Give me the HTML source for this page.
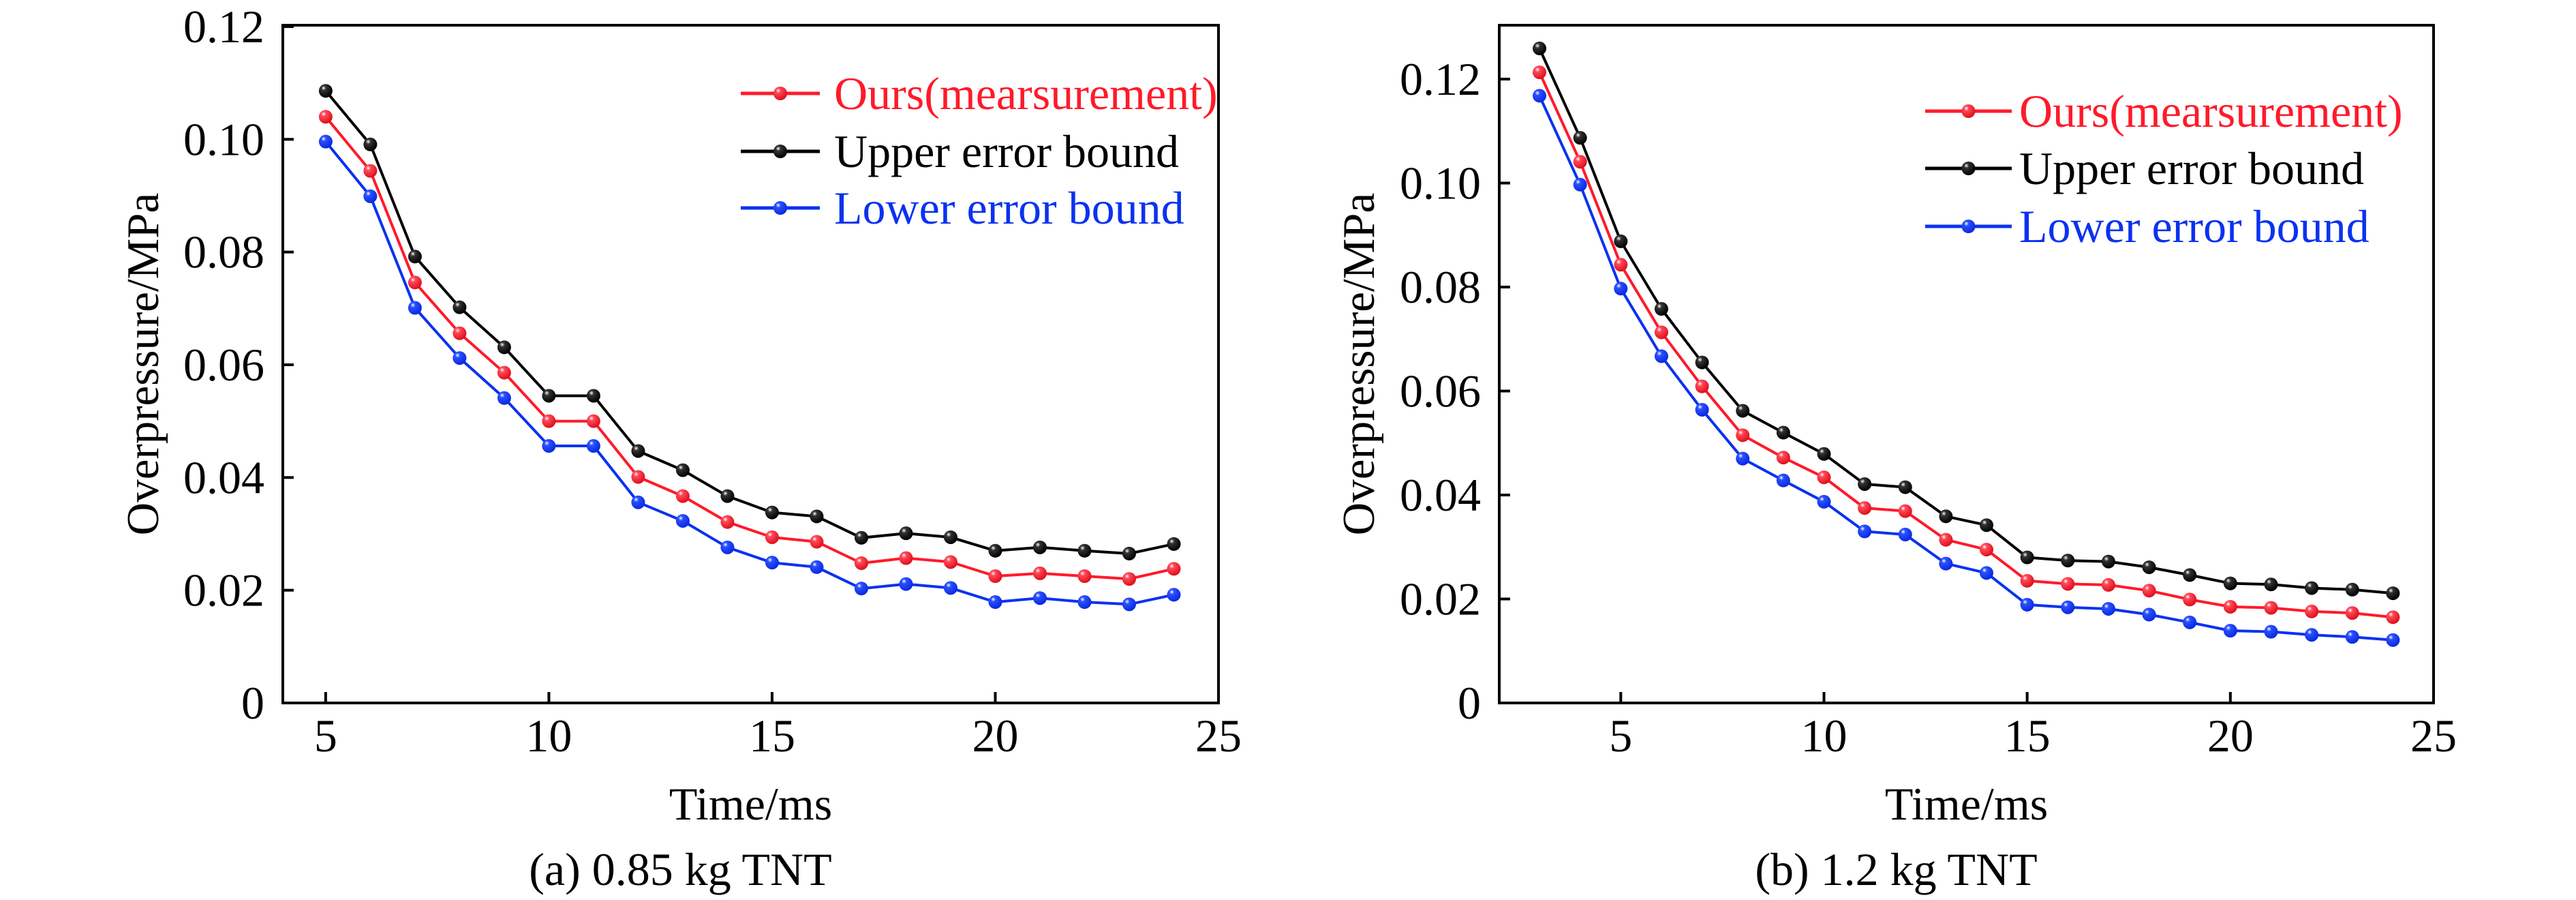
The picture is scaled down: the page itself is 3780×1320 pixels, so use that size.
<!DOCTYPE html>
<html><head><meta charset="utf-8"><style>
html,body{margin:0;padding:0;background:#fff;}
svg{display:block;}
svg text{font-family:"Liberation Serif","Times New Roman",serif;}
</style></head>
<body>
<svg id="fig" width="3780" height="1320" viewBox="0 0 3780 1320" xmlns="http://www.w3.org/2000/svg" font-family="Liberation Serif, serif">
<defs>
<radialGradient id="gr" cx="0.35" cy="0.3" r="0.7"><stop offset="0" stop-color="#fff"/><stop offset="0.25" stop-color="#ff4a5a"/><stop offset="1" stop-color="#e0101c"/></radialGradient>
<radialGradient id="gk" cx="0.35" cy="0.3" r="0.7"><stop offset="0" stop-color="#fff"/><stop offset="0.25" stop-color="#333"/><stop offset="1" stop-color="#000"/></radialGradient>
<radialGradient id="gb" cx="0.35" cy="0.3" r="0.7"><stop offset="0" stop-color="#fff"/><stop offset="0.25" stop-color="#2a50ff"/><stop offset="1" stop-color="#0a2ae0"/></radialGradient>
</defs>
</svg>
<script>
// Panel (a) 0.85 kg TNT
const timeA = [5,6,7,8,9,10,11,12,13,14,15,16,17,18,19,20,21,22,23,24];
const oursA = [0.1040,0.0944,0.0746,0.0656,0.0586,0.0500,0.0500,0.0401,0.0367,0.0321,0.0294,0.0286,0.0248,0.0257,0.0250,0.0225,0.0230,0.0225,0.0220,0.0238];
const upperA = [0.1086,0.0991,0.0792,0.0702,0.0631,0.0545,0.0545,0.0447,0.0413,0.0367,0.0338,0.0331,0.0293,0.0301,0.0294,0.0270,0.0276,0.0270,0.0265,0.0282];
const lowerA = [0.0996,0.0899,0.0701,0.0612,0.0541,0.0456,0.0456,0.0356,0.0323,0.0276,0.0249,0.0241,0.0203,0.0211,0.0204,0.0179,0.0186,0.0179,0.0175,0.0192];
// Panel (b) 1.2 kg TNT
const timeB = [3,4,5,6,7,8,9,10,11,12,13,14,15,16,17,18,19,20,21,22,23,24];
const oursB = [0.1213,0.1041,0.0843,0.0713,0.0609,0.0515,0.0472,0.0434,0.0375,0.0369,0.0314,0.0295,0.0235,0.0229,0.0227,0.0216,0.0199,0.0185,0.0183,0.0176,0.0173,0.0165];
const upperB = [0.1259,0.1087,0.0888,0.0758,0.0655,0.0562,0.0520,0.0479,0.0421,0.0415,0.0359,0.0342,0.0280,0.0274,0.0272,0.0261,0.0246,0.0230,0.0228,0.0221,0.0218,0.0211];
const lowerB = [0.1168,0.0997,0.0797,0.0667,0.0564,0.0470,0.0428,0.0387,0.0330,0.0324,0.0268,0.0250,0.0189,0.0184,0.0181,0.0170,0.0155,0.0139,0.0137,0.0131,0.0127,0.0121];
const xTicks = [5,10,15,20,25];
const yTicksA = [0,0.02,0.04,0.06,0.08,0.10,0.12];
const yTickLabelsA = ["0","0.02","0.04","0.06","0.08","0.10","0.12"];
const yTicksB = [0,0.02,0.04,0.06,0.08,0.10,0.12];
const yTickLabelsB = ["0","0.02","0.04","0.06","0.08","0.10","0.12"];
const seriesNames = ["Ours(mearsurement)","Upper error bound","Lower error bound"];

const NS="http://www.w3.org/2000/svg";
const svg=document.getElementById('fig');
const FF='"Liberation Serif", "Times New Roman", serif';
function mk(tag,attrs,parent){const e=document.createElementNS(NS,tag);for(const k in attrs)e.setAttribute(k,attrs[k]);if(tag==='text')e.setAttribute('font-family',FF);(parent||svg).appendChild(e);return e;}

function panel(cfg){
  const g=mk('g',{});
  
  
  const L=cfg.L,R=cfg.R,T=37,B=1031;
  const xs=v=>L+(v-cfg.xmin)/(cfg.xmax-cfg.xmin)*(R-L);
  const yScale=v=>B-v/0.12*(B-cfg.y012);
  const fr=mk('rect',{x:L,y:T,width:R-L,height:B-T,fill:'none',stroke:'#000','stroke-width':4},g);
  
  
  cfg.xTicks.forEach(t=>{
    const x=xs(t);
    const tk=mk('line',{x1:x,x2:x,y1:B,y2:B-16,stroke:'#000','stroke-width':4},g);
    
    
    const tl=mk('text',{x:x,y:1102,'font-size':68,'text-anchor':'middle'},g);
    tl.textContent=t;
    
    
  });
  cfg.yTicks.forEach((t,i)=>{
    const y=yScale(t);
    if(i>0){
      const tk=mk('line',{x1:L,x2:L+16,y1:y,y2:y,stroke:'#000','stroke-width':4},g);
      
      
    }
    const tl=mk('text',{x:L-27,y:y+23,'font-size':68,'text-anchor':'end'},g);
    tl.textContent=cfg.yLabels[i];
    
    
  });
  const yt=mk('text',{x:0,y:0,'font-size':67,'text-anchor':'middle',transform:`translate(${cfg.yTitleX},${(T+B)/2}) rotate(-90)`},g);
  yt.textContent='Overpressure/MPa';
  
  
  const xt=mk('text',{x:(L+R)/2,y:1202,'font-size':68,'text-anchor':'middle'},g);
  xt.textContent='Time/ms';
  
  
  const cap=mk('text',{x:(L+R)/2-103,y:1298,'font-size':68,'text-anchor':'middle'},g);
  cap.textContent=cfg.caption;
  
  
  const cols=['#ff1a2a','#000','#0a32f0'],grads=['url(#gr)','url(#gk)','url(#gb)'];
  const order=[1,0,2];
  order.forEach(si=>{
    const vals=cfg.series[si];
    const pts=cfg.time.map((t,i)=>xs(t).toFixed(1)+','+yScale(vals[i]).toFixed(1)).join(' ');
    const pl=mk('polyline',{points:pts,fill:'none',stroke:cols[si],'stroke-width':4,'stroke-linejoin':'round'},g);
    
    
    cfg.time.forEach((t,i)=>{
      const c=mk('circle',{cx:xs(t),cy:yScale(vals[i]),r:10,fill:grads[si]},g);
      
      
    });
  });
  const lg=mk('g',{},g);
  
  
  seriesNames.forEach((n,i)=>{
    const y=cfg.legY[i];
    const e=mk('g',{},lg);
    
    
    mk('line',{x1:cfg.legX1,x2:cfg.legX2,y1:y,y2:y,stroke:cols[i],'stroke-width':5},e);
    mk('circle',{cx:(cfg.legX1+cfg.legX2)/2,cy:y,r:10,fill:grads[i]},e);
    const tx=mk('text',{x:cfg.legTX,y:y+23,'font-size':68,fill:cols[i]},e);
    tx.textContent=n;
  });
}
panel({id:'a',L:415,R:1788,xmin:4.04,xmax:25,y012:39,xTicks:xTicks,yTicks:yTicksA,yLabels:yTickLabelsA,
  time:timeA,series:[oursA,upperA,lowerA],yTitleX:232,caption:'(a) 0.85 kg TNT',
  legY:[137,222,305],legX1:1087,legX2:1203,legTX:1224});
panel({id:'b',L:2200,R:3571,xmin:2.01,xmax:25,y012:116,xTicks:xTicks,yTicks:yTicksB,yLabels:yTickLabelsB,
  time:timeB,series:[oursB,upperB,lowerB],yTitleX:2016,caption:'(b) 1.2 kg TNT',
  legY:[163,247,332],legX1:2825,legX2:2952,legTX:2963});
</script>
</body></html>
